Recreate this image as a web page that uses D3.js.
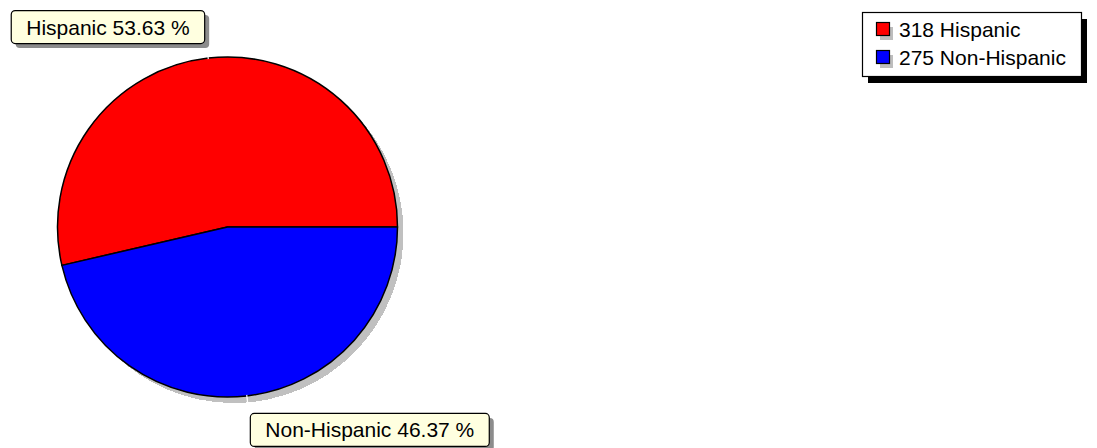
<!DOCTYPE html>
<html>
<head>
<meta charset="utf-8">
<script src="https://cdn.jsdelivr.net/npm/d3@7"></script>
<style>
  body { margin: 0; background: #fff; }
  svg { display: block; font-family: "Liberation Sans", Arial, sans-serif; }
</style>
</head>
<body>
<script>
// data
const categories = ["Hispanic", "Non-Hispanic"];
const counts = [318, 275];
const colors = ["#ff0000", "#0000ff"];

const width = 1097, height = 448;
const cx = 227.5, cy = 227, radius = 170;

const svg = d3.select("body").append("svg")
  .attr("width", width).attr("height", height);

const total = d3.sum(counts);
const data = categories.map((c, i) => ({ name: c, value: counts[i], color: colors[i] }));

// first slice starts at 3 o'clock and runs counter-clockwise
const pie = d3.pie().sort(null).value(d => d.value)
  .startAngle(Math.PI / 2).endAngle(Math.PI / 2 - 2 * Math.PI);
const arcs = pie(data);
const arc = d3.arc().innerRadius(0).outerRadius(radius);

const g = svg.append("g").attr("transform", `translate(${cx},${cy})`);

// shadow
g.append("circle")
  .attr("cx", 6).attr("cy", 6).attr("r", radius)
  .attr("fill", "#c0c0c0")
  .attr("shape-rendering", "crispEdges");

g.selectAll("path.slice")
  .data(arcs)
  .join("path")
  .attr("class", "slice")
  .attr("d", arc)
  .attr("fill", d => d.data.color)
  .attr("stroke", "#000")
  .attr("stroke-width", 1.5)
  .attr("stroke-linejoin", "round");

// little white ticks at slice mid points
const midPt = (d, r) => {
  const a = (d.startAngle + d.endAngle) / 2;
  return [Math.sin(a) * r, -Math.cos(a) * r];
};
g.selectAll("line.tick")
  .data(arcs)
  .join("line")
  .attr("class", "tick")
  .attr("x1", d => midPt(d, radius - 1)[0])
  .attr("y1", d => midPt(d, radius - 1)[1])
  .attr("x2", d => midPt(d, radius + 7)[0])
  .attr("y2", d => midPt(d, radius + 7)[1])
  .attr("stroke", "#fff")
  .attr("stroke-width", 1.2);

// slice labels
const fmt = d3.format(".2f");
const labelFont = 21;
arcs.forEach(d => {
  const [mx, my] = midPt(d, radius);
  const text = `${d.data.name} ${fmt(d.data.value / total * 100)} %`;
  const lg = svg.append("g");
  const t = lg.append("text")
    .attr("font-size", labelFont)
    .attr("fill", "#000")
    .text(text);
  const w = t.node().getComputedTextLength() + 30;
  const h = 33;
  let bx, by;
  if (my < 0) { // upper slice: box above-left of the tick
    bx = cx + mx - 4 - w;
    by = cy + my - 15 - h;
  } else {
    bx = cx + mx + 3;
    by = cy + my + 17;
  }
  lg.insert("rect", "text")
    .attr("x", bx + 5).attr("y", by + 5)
    .attr("width", w).attr("height", h)
    .attr("rx", 4)
    .attr("fill", "#8c8c8c");
  lg.insert("rect", "text")
    .attr("x", bx + 0.5).attr("y", by + 0.5)
    .attr("width", w).attr("height", h)
    .attr("rx", 4)
    .attr("fill", "#ffffe0")
    .attr("stroke", "#000")
    .attr("stroke-width", 1.2);
  t.attr("x", bx + w / 2 + 0.5).attr("y", by + h / 2 + 8)
    .attr("text-anchor", "middle");
});

// legend
const lx = 862, ly = 12, lw = 219, lh = 64;
const legend = svg.append("g");
legend.append("rect")
  .attr("x", lx + 6).attr("y", ly + 7)
  .attr("width", lw).attr("height", lh)
  .attr("fill", "#000");
legend.append("rect")
  .attr("x", lx + 0.5).attr("y", ly + 0.5)
  .attr("width", lw).attr("height", lh)
  .attr("fill", "#fff")
  .attr("stroke", "#000")
  .attr("stroke-width", 1.2);

const rowY = d3.scalePoint().domain(categories).range([ly + 17, ly + 45]);
const items = legend.selectAll("g.item")
  .data(data)
  .join("g")
  .attr("class", "item")
  .attr("transform", d => `translate(${lx + 14},${rowY(d.name)})`);
items.append("rect")
  .attr("x", 4).attr("y", -2)
  .attr("width", 13).attr("height", 13)
  .attr("fill", "#bdbdbd");
items.append("rect")
  .attr("x", 0.5).attr("y", -6.5)
  .attr("width", 13).attr("height", 13)
  .attr("fill", d => d.color)
  .attr("stroke", "#000")
  .attr("stroke-width", 1.2);
items.append("text")
  .attr("x", 23).attr("y", 7.5)
  .attr("font-size", 21)
  .attr("fill", "#000")
  .text(d => `${d.value} ${d.name}`);
</script>
</body>
</html>
